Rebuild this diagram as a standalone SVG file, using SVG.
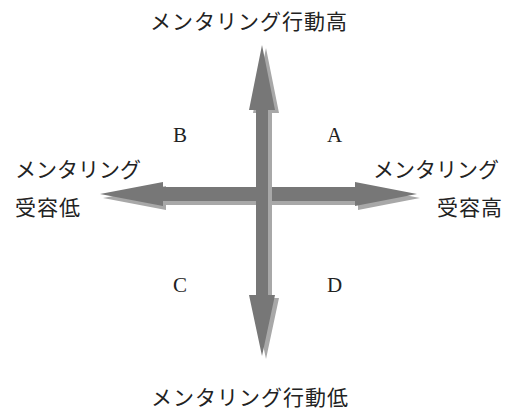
<svg xmlns="http://www.w3.org/2000/svg" width="508" height="414" viewBox="0 0 508 414">
<style>
.t{font-family:"Liberation Serif","Noto Sans CJK JP",serif;font-size:21px;fill:#222;}
.w{letter-spacing:1px;}
.dark{fill:#777777;}
.sh{fill:#a8a8a8;}
</style>
<defs>
<path id="harrow" d="M100,194 L163,182 L163,187 L355,187 L355,182 L417,194 L355,206 L355,201 L163,201 L163,206 Z"/>
<path id="varrow" d="M262,45 L275,110 L268,110 L268,295 L275,295 L262,356 L249,295 L256,295 L256,110 L249,110 Z"/>
</defs>
<rect width="508" height="414" fill="#ffffff"/>
<g id="connectors">
<use href="#harrow" class="sh" transform="translate(3,4)"/>
<use href="#harrow" class="dark"/>
<use href="#varrow" class="sh" transform="translate(4,3)"/>
<use href="#varrow" class="dark"/>
</g>
<g id="top"><text class="t w" x="150" y="29">メンタリング行動高</text></g>
<g id="bottom"><text class="t w" x="151" y="405">メンタリング行動低</text></g>
<g id="left"><text class="t" x="15" y="177">メンタリング</text><text class="t w" x="15" y="215">受容低</text></g>
<g id="right"><text class="t" x="373" y="177">メンタリング</text><text class="t w" x="437" y="215">受容高</text></g>
<g id="qB"><text class="t" x="173" y="142">B</text></g>
<g id="qA"><text class="t" x="327" y="142">A</text></g>
<g id="qC"><text class="t" x="173" y="292">C</text></g>
<g id="qD"><text class="t" x="327" y="292">D</text></g>
</svg>
